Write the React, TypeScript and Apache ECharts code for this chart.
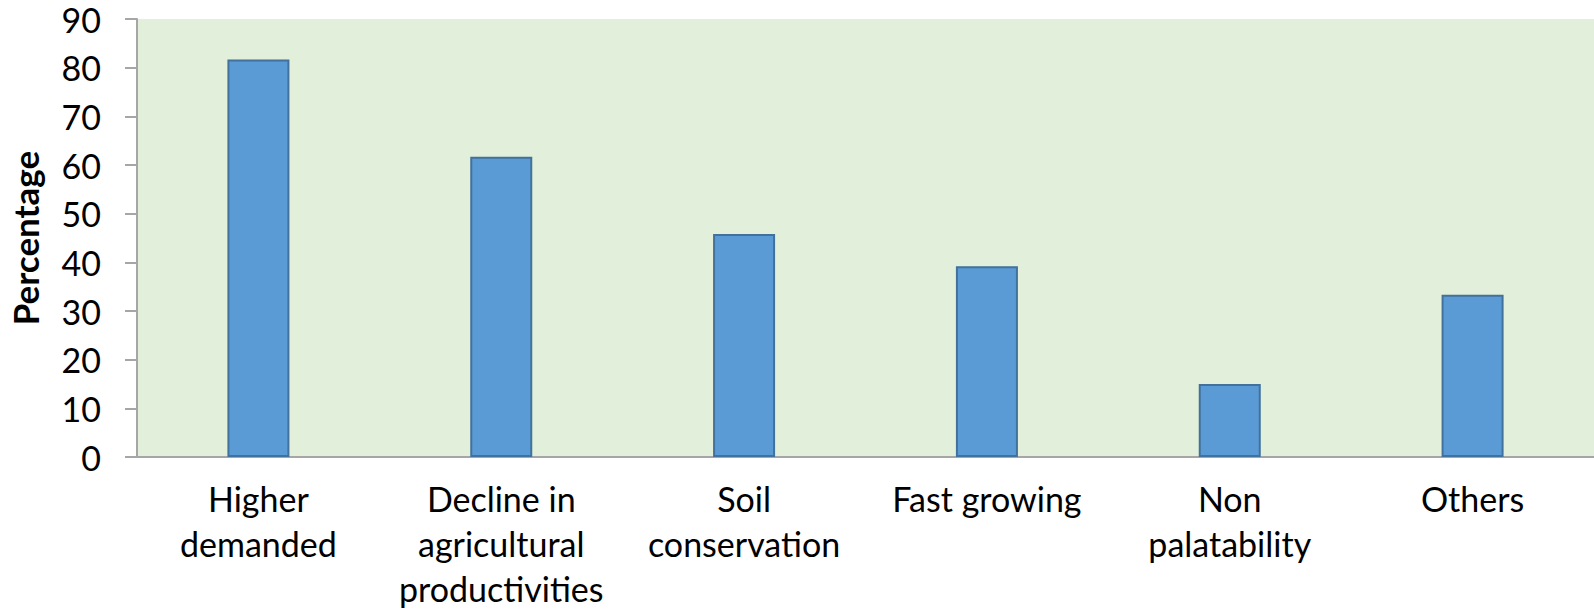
import React, { useEffect, useRef } from "react";
import * as echarts from "echarts";

const categories = [
  "Higher\ndemanded",
  "Decline in\nagricultural\nproductivities",
  "Soil\nconservation",
  "Fast growing",
  "Non\npalatability",
  "Others",
];
const percentages = [81.67, 61.67, 45.83, 39.17, 15.0, 33.33];
const yMin = 0;
const yMax = 90;
const yInterval = 10;

export default function App() {
  const ref = useRef<HTMLDivElement>(null);
  useEffect(() => {
    if (!ref.current) return;
    const chart = echarts.init(ref.current, undefined, { renderer: "svg" });
    const font = "Lato, 'Open Sans', sans-serif";
    chart.setOption({
      animation: false,
      grid: {
        left: 137,
        right: 0,
        top: 19,
        bottom: 159,
        show: true,
        backgroundColor: "#E2EFDA",
        borderWidth: 0,
        containLabel: false,
        outerBoundsMode: "none",
      },
      xAxis: {
        type: "category",
        data: categories,
        axisLine: { show: true, lineStyle: { color: "#A6A6A6", width: 2 } },
        axisTick: { show: false },
        axisLabel: {
          color: "#000",
          fontFamily: font,
          fontSize: 34,
          lineHeight: 45,
          margin: 19,
          interval: 0,
        },
      },
      yAxis: {
        type: "value",
        min: yMin,
        max: yMax,
        interval: yInterval,
        name: "Percentage",
        nameLocation: "middle",
        nameGap: 95,
        nameTextStyle: {
          color: "#000",
          fontFamily: font,
          fontSize: 35,
          lineHeight: 35,
          fontWeight: "bold",
        },
        splitLine: { show: false },
        axisLine: { show: true, lineStyle: { color: "#A6A6A6", width: 2 } },
        axisTick: { show: true, length: 12, lineStyle: { color: "#A6A6A6", width: 2 } },
        axisLabel: {
          color: "#000",
          fontFamily: font,
          fontSize: 34,
          lineHeight: 34,
          margin: 36,
        },
      },
      series: [
        {
          type: "bar",
          data: percentages,
          barWidth: 62,
          itemStyle: {
            color: "#5B9BD5",
            borderColor: "#41719C",
            borderWidth: 2,
          },
        },
      ],
    });
    return () => chart.dispose();
  }, []);
  return (
    <div
      ref={ref}
      style={{ position: "absolute", left: 0, top: 0, width: 1594, height: 616 }}
    />
  );
}
